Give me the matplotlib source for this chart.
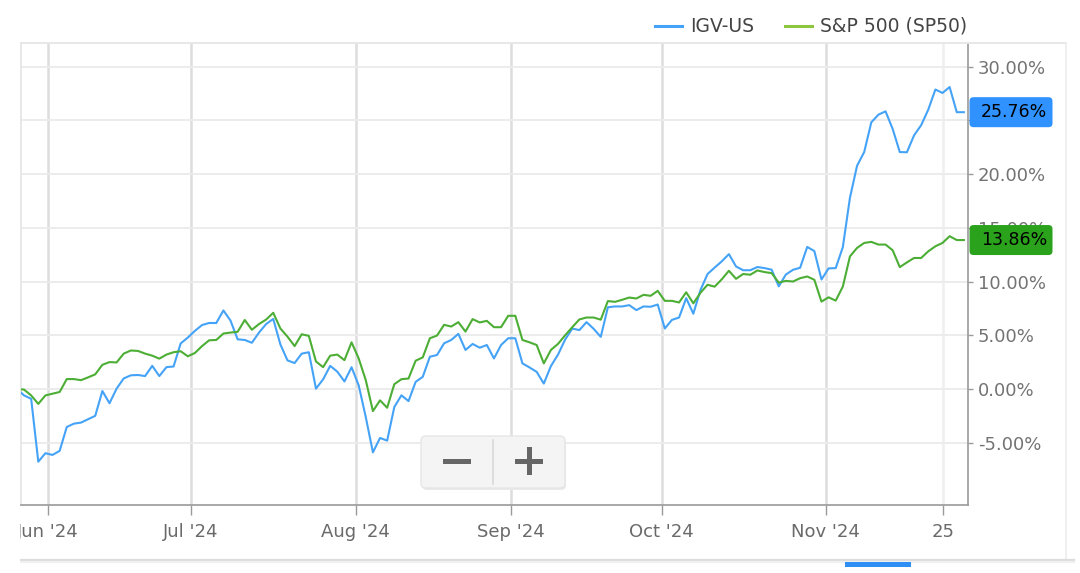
import numpy as np
import matplotlib.pyplot as plt
from matplotlib.patches import FancyBboxPatch, Rectangle
from matplotlib.lines import Line2D
from matplotlib.transforms import IdentityTransform

W, H = 1080, 573

# % change since start, one value per weekday (first point is the base)
igv = [0.0, -0.60, -0.92, -6.77, -5.98, -6.14, -5.76, -3.54, -3.23, -3.13, -2.82,
       -2.50, -0.19, -1.33, 0.03, 0.98, 1.27, 1.30, 1.20, 2.15, 1.20,
       2.03, 2.09, 4.24, 4.78, 5.41, 5.95, 6.14, 6.14, 7.31, 6.36,
       4.62, 4.56, 4.30, 5.25, 6.04, 6.52, 4.15, 2.66, 2.41, 3.29,
       3.42, 0.03, 0.89, 2.15, 1.61, 0.70, 2.02, 0.34, -2.63, -5.90,
       -4.56, -4.81, -1.69, -0.59, -1.13, 0.66, 1.13, 3.00, 3.16, 4.25,
       4.56, 5.13, 3.63, 4.19, 3.84, 4.09, 2.84, 4.09, 4.72, 4.72,
       2.38, 2.00, 1.59, 0.50, 2.13, 3.20, 4.60, 5.62, 5.48, 6.22,
       5.60, 4.85, 7.60, 7.68, 7.68, 7.80, 7.34, 7.68, 7.65, 7.86,
       5.63, 6.43, 6.65, 8.45, 7.00, 9.20, 10.70, 11.30, 11.88, 12.55,
       11.40, 11.05, 11.05, 11.35, 11.25, 11.10, 9.55, 10.65, 11.09, 11.28,
       13.22, 12.83, 10.19, 11.22, 11.25, 13.20, 17.80, 20.78, 22.05, 24.82,
       25.53, 25.84, 24.20, 22.05, 22.03, 23.60, 24.55, 26.00, 27.87, 27.55,
       28.10, 25.76, 25.76]
sp50 = [0.0, -0.06, -0.60, -1.39, -0.60, -0.44, -0.28, 0.92, 0.92, 0.82, 1.08,
        1.36, 2.25, 2.50, 2.47, 3.29, 3.58, 3.54, 3.29, 3.10, 2.82,
        3.20, 3.42, 3.51, 3.04, 3.35, 3.99, 4.53, 4.56, 5.16, 5.25,
        5.32, 6.42, 5.51, 6.04, 6.46, 7.09, 5.63, 4.87, 3.99, 5.09,
        4.94, 2.56, 2.03, 3.10, 3.20, 2.68, 4.34, 2.84, 0.81, -2.06,
        -1.06, -1.75, 0.44, 0.91, 0.97, 2.63, 2.94, 4.72, 4.97, 5.97,
        5.81, 6.22, 5.34, 6.50, 6.19, 6.34, 5.75, 5.75, 6.81, 6.81,
        4.56, 4.34, 4.09, 2.38, 3.63, 4.20, 5.00, 5.75, 6.47, 6.65,
        6.65, 6.45, 8.18, 8.11, 8.30, 8.51, 8.42, 8.76, 8.67, 9.13,
        8.20, 8.20, 8.05, 9.00, 7.97, 8.95, 9.70, 9.52, 10.21, 11.00,
        10.25, 10.70, 10.63, 11.03, 10.88, 10.78, 9.90, 10.06, 10.00, 10.31,
        10.47, 10.16, 8.13, 8.53, 8.22, 9.53, 12.34, 13.13, 13.59, 13.69,
        13.44, 13.44, 12.91, 11.34, 11.78, 12.19, 12.19, 12.81, 13.28, 13.59,
        14.22, 13.86, 13.86]
series_names = ["IGV-US", "S&P 500 (SP50)"]
last_labels = ["25.76%", "13.86%"]

month_ticks = [3.4, 23.45, 46.6, 68.4, 89.55, 112.6, 129.1]
month_labels = ["Jun '24", "Jul '24", "Aug '24", "Sep '24", "Oct '24", "Nov '24", "25"]
y_ticks = [-5, 0, 5, 10, 15, 20, 25, 30]

blue = "#45a3f7"
green = "#4cae35"
badge_colors = ["#2f92ff", "#2aa21c"]

plt.rcParams["font.family"] = "DejaVu Sans"
fig = plt.figure(figsize=(W / 100, H / 100), dpi=100)
fig.patch.set_facecolor("white")

left, right, top, bottom = 20.7, 968, 43, 505
ax = fig.add_axes([left / W, 1 - bottom / H, (right - left) / W, (bottom - top) / H])

x = np.arange(-1, len(igv) - 1)
ax.plot(x, igv, color=blue, lw=1.5, zorder=3, solid_joinstyle="round")
ax.plot(x, sp50, color=green, lw=1.5, zorder=4, solid_joinstyle="round")

ax.set_xlim(-0.47, 132.58)
ax.set_ylim(-10.8, 32.2)

ax.set_xticks(month_ticks)
ax.set_xticklabels(month_labels)
ax.set_yticks(y_ticks)
ax.set_yticklabels([f"{v:.2f}%" for v in y_ticks])
ax.yaxis.tick_right()

ax.grid(axis="y", color="#ececec", lw=1.4, zorder=0)
ax.grid(axis="x", color="#dddddd", lw=1.8, zorder=0)
ax.get_xgridlines()[-1].set_color("#efefef")
ax.tick_params(axis="x", length=7.2, width=1, color="#9a9a9a", pad=5.5,
               labelsize=13, labelcolor="#6a6a6a")
ax.tick_params(axis="y", length=3.6, width=1, color="#9a9a9a", pad=3.6,
               labelsize=13, labelcolor="#737373")
for side in ["left", "top"]:
    ax.spines[side].set_color("#e6e6e6")
    ax.spines[side].set_linewidth(1.3)
for side in ["right", "bottom"]:
    ax.spines[side].set_color("#9a9a9a")
    ax.spines[side].set_linewidth(1.2)

ident = IdentityTransform()


def line_px(xs, ys, **kw):
    fig.add_artist(Line2D(xs, [H - v for v in ys], transform=ident, **kw))


# top border continues past the value axis, card edges
line_px([968, 1066], [43, 43], color="#e6e6e6", lw=1.3)
line_px([1066, 1066], [43, 560], color="#ececec", lw=1.2)
line_px([20, 1074], [560, 560], color="#dcdcdc", lw=1.6)
line_px([20, 1074], [562, 562], color="#f0f0f0", lw=1.6)

# the card cuts off whatever lies left of it
fig.add_artist(Rectangle((0, 0), 19.5, H, transform=ident,
                         facecolor="white", edgecolor="none", zorder=4))

# legend
for name, col, lx in zip(series_names, [blue, "#8cc63f"], [655, 785]):
    line_px([lx, lx + 27], [26, 26], color=col, lw=2.2)
    fig.text((lx + 35) / W, 1 - 26 / H, name, fontsize=13.5, color="#444444",
             va="center", ha="left")

# last value badges
for vals, lab, col in zip([igv, sp50], last_labels, badge_colors):
    ypix = ax.transData.transform((0, vals[-1]))[1]
    fig.add_artist(FancyBboxPatch((969.5, ypix - 15), 83, 30,
                                  boxstyle="round,pad=0,rounding_size=4",
                                  transform=ident, facecolor=col, edgecolor="none",
                                  zorder=5))
    fig.text(1014 / W, ypix / H, lab, fontsize=12.5, color="black",
             va="center", ha="center", zorder=6)

# zoom buttons
fig.add_artist(FancyBboxPatch((422, H - 490), 144, 52,
                              boxstyle="round,pad=0,rounding_size=5",
                              transform=ident, facecolor="#e9e9e9",
                              edgecolor="none", zorder=5))
fig.add_artist(FancyBboxPatch((421, H - 488), 144, 52,
                              boxstyle="round,pad=0,rounding_size=5",
                              transform=ident, facecolor="#f4f4f4",
                              edgecolor="#e6e6e6", lw=1, zorder=5))
line_px([493, 493], [440, 484], color="#d9d9d9", lw=1.2, zorder=6)
fig.add_artist(Rectangle((443, H - 463.5), 28, 5, transform=ident,
                         facecolor="#666666", zorder=6))
fig.add_artist(Rectangle((515, H - 463.5), 28, 5, transform=ident,
                         facecolor="#666666", zorder=6))
fig.add_artist(Rectangle((526.5, H - 475), 5, 28, transform=ident,
                         facecolor="#666666", zorder=6))

# navigator handle at the bottom
fig.add_artist(Rectangle((845, H - 567), 66, 5, transform=ident,
                         facecolor="#2f8ff5", zorder=6))

fig.savefig("out.png", dpi=100, facecolor="white")
